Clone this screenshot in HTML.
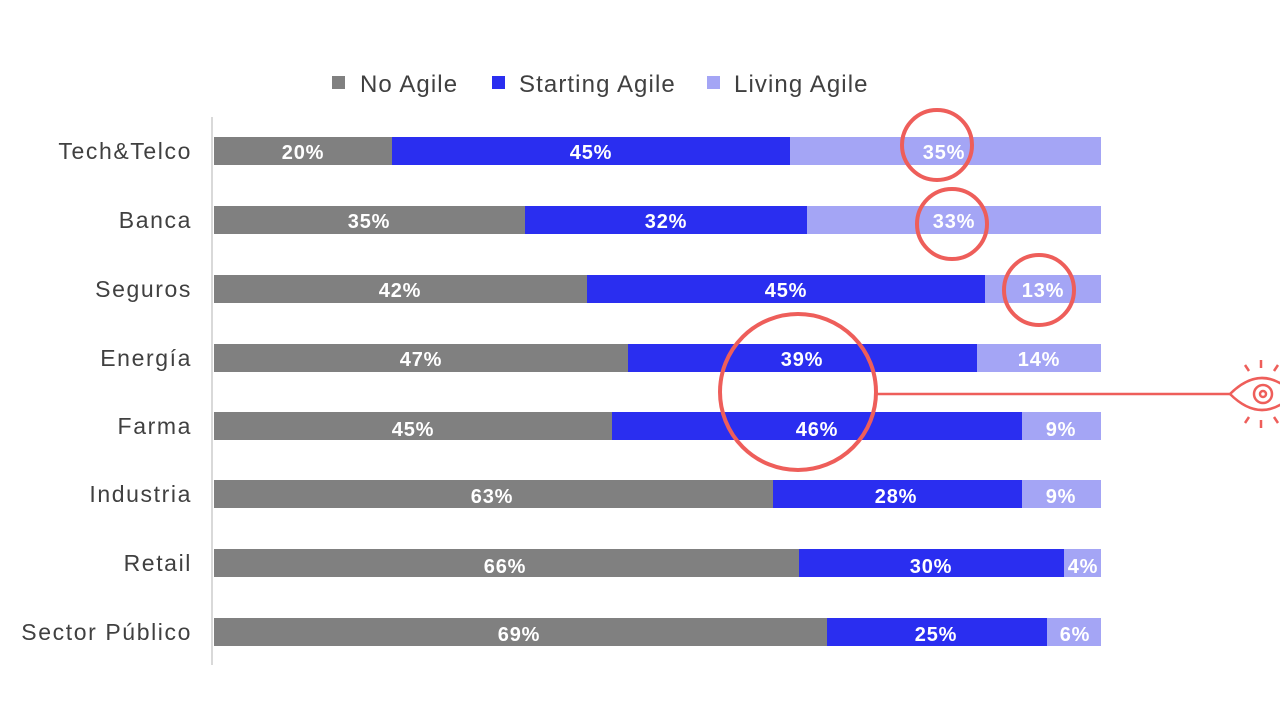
<!DOCTYPE html>
<html><head><meta charset="utf-8"><style>
html,body{margin:0;padding:0;background:#fff;width:1280px;height:720px;overflow:hidden}
</style></head><body>
<svg width="1280" height="720" xmlns="http://www.w3.org/2000/svg" font-family="Liberation Sans, sans-serif">
<g font-size="24" fill="#404040" letter-spacing="1.1">
<rect x="332" y="76" width="13" height="13" fill="#808080"/>
<text x="360" y="92">No Agile</text>
<rect x="492" y="76" width="13" height="13" fill="#2a2ef0"/>
<text x="519" y="92">Starting Agile</text>
<rect x="707" y="76" width="13" height="13" fill="#a4a5f5"/>
<text x="734" y="92">Living Agile</text>
</g>
<line x1="212" y1="117" x2="212" y2="665" stroke="#d9d9d9" stroke-width="2"/>
<g font-size="23" fill="#404040" text-anchor="end" letter-spacing="1.6">
<text x="192" y="159">Tech&amp;Telco</text>
<text x="192" y="228">Banca</text>
<text x="192" y="297">Seguros</text>
<text x="192" y="366">Energía</text>
<text x="192" y="434">Farma</text>
<text x="192" y="502">Industria</text>
<text x="192" y="571">Retail</text>
<text x="192" y="640">Sector Público</text>
</g>
<g font-size="20" font-weight="bold" fill="#fff" text-anchor="middle" letter-spacing="0.8">
<rect x="214" y="137" width="178" height="28" fill="#808080"/><rect x="392" y="137" width="398" height="28" fill="#2a2ef0"/><rect x="790" y="137" width="311" height="28" fill="#a4a5f5"/>
<text x="303" y="159">20%</text><text x="591" y="159">45%</text><text x="944" y="159">35%</text>
<rect x="214" y="206" width="311" height="28" fill="#808080"/><rect x="525" y="206" width="282" height="28" fill="#2a2ef0"/><rect x="807" y="206" width="294" height="28" fill="#a4a5f5"/>
<text x="369" y="228">35%</text><text x="666" y="228">32%</text><text x="954" y="228">33%</text>
<rect x="214" y="275" width="373" height="28" fill="#808080"/><rect x="587" y="275" width="398" height="28" fill="#2a2ef0"/><rect x="985" y="275" width="116" height="28" fill="#a4a5f5"/>
<text x="400" y="297">42%</text><text x="786" y="297">45%</text><text x="1043" y="297">13%</text>
<rect x="214" y="344" width="414" height="28" fill="#808080"/><rect x="628" y="344" width="349" height="28" fill="#2a2ef0"/><rect x="977" y="344" width="124" height="28" fill="#a4a5f5"/>
<text x="421" y="366">47%</text><text x="802" y="366">39%</text><text x="1039" y="366">14%</text>
<rect x="214" y="412" width="398" height="28" fill="#808080"/><rect x="612" y="412" width="410" height="28" fill="#2a2ef0"/><rect x="1022" y="412" width="79" height="28" fill="#a4a5f5"/>
<text x="413" y="436">45%</text><text x="817" y="436">46%</text><text x="1061" y="436">9%</text>
<rect x="214" y="480" width="559" height="28" fill="#808080"/><rect x="773" y="480" width="249" height="28" fill="#2a2ef0"/><rect x="1022" y="480" width="79" height="28" fill="#a4a5f5"/>
<text x="492" y="503">63%</text><text x="896" y="503">28%</text><text x="1061" y="503">9%</text>
<rect x="214" y="549" width="585" height="28" fill="#808080"/><rect x="799" y="549" width="265" height="28" fill="#2a2ef0"/><rect x="1064" y="549" width="37" height="28" fill="#a4a5f5"/>
<text x="505" y="573">66%</text><text x="931" y="573">30%</text><text x="1083" y="573">4%</text>
<rect x="214" y="618" width="613" height="28" fill="#808080"/><rect x="827" y="618" width="220" height="28" fill="#2a2ef0"/><rect x="1047" y="618" width="54" height="28" fill="#a4a5f5"/>
<text x="519" y="641">69%</text><text x="936" y="641">25%</text><text x="1075" y="641">6%</text>
</g>
<g fill="none" stroke="#ee5e5a" stroke-width="4">
<circle cx="937" cy="145" r="35"/>
<circle cx="952" cy="224" r="35"/>
<circle cx="1039" cy="290" r="35"/>
<circle cx="798" cy="392" r="78"/>
</g>
<g fill="none" stroke="#ee5e5a" stroke-width="2.5">
<line x1="876" y1="394" x2="1230" y2="394"/>
<path d="M1230 394 Q1262 362 1294 394 Q1262 426 1230 394 Z"/>
<circle cx="1263" cy="394" r="9"/>
<circle cx="1263" cy="394" r="3"/>
<line x1="1261" y1="360" x2="1261" y2="368"/>
<line x1="1261" y1="420" x2="1261" y2="428"/>
<line x1="1245" y1="365" x2="1249" y2="371"/>
<line x1="1245" y1="423" x2="1249" y2="417"/>
<line x1="1278" y1="365" x2="1274" y2="371"/>
<line x1="1278" y1="423" x2="1274" y2="417"/>
</g>
</svg>
</body></html>
